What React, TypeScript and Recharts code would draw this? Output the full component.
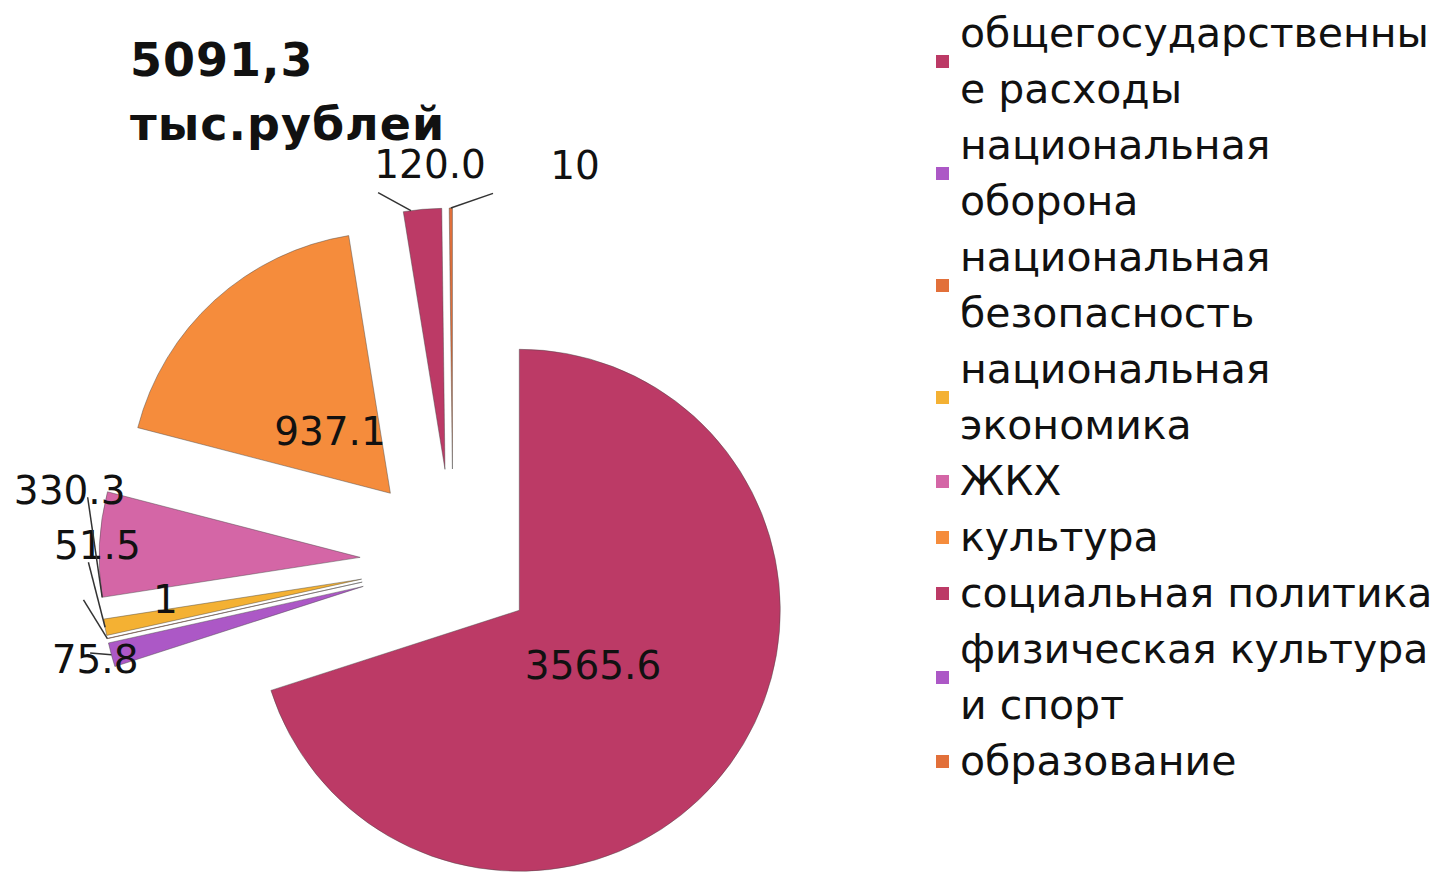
import React from "react";
import { PieChart, Pie, Cell, Sector } from "recharts";

const categories = [
  "общегосударственные расходы",
  "национальная оборона",
  "национальная безопасность",
  "национальная экономика",
  "ЖКХ",
  "культура",
  "социальная политика",
  "физическая культура и спорт",
  "образование",
];
const values = [3565.6, 75.8, 1, 51.5, 330.3, 937.1, 120.0, 0, 10];
const colors = ["#BC3A66", "#AC58C6", "#E2703A", "#F4B133", "#D466A6", "#F58C3C", "#BC3A66", "#AC58C6", "#E2703A"];
const totalText = "5091,3";
const unitText = "тыс.рублей";

// how far each slice is pulled out of the pie
const explode = [82, 93, 93, 93, 93, 93, 93, 93, 93];
// where the value labels sit: clockwise degrees from 12 o'clock, distance from pie centre
const labelAngle = [126.4, 254.7, 262.5, 272.7, 280.6, 316.6, 356.7, 0, 17.1];
const labelDist = [174, 371, 290, 356, 390, 179, 398, 0, 415];
// leader lines: start offset from label centre, end point along the slice arc (0..1)
const leaderFrom: ([number, number] | null)[] = [null, [-5, -7], [-82, 0], [-9, 17], [18, 7], null, [-52, 28], null, [-82, 28]];
const leaderArc = [0, 0.5, 0.5, 0.5, 0, 0, 0.2, 0, 0.5];

const RAD = Math.PI / 180;
const font = "'DejaVu Sans', sans-serif";

const pieData = categories.map((name, i) => ({ name, value: values[i] }));

const fmt = (v: number) => (v >= 100 ? v.toFixed(1) : String(v));

function ExplodedSector(props: any) {
  if (!props.value) return null;
  const i = categories.indexOf(props.name ?? props.payload?.name);
  const e = explode[i] ?? 0;
  const a = -props.midAngle * RAD;
  return <Sector {...props} cx={props.cx + e * Math.cos(a)} cy={props.cy + e * Math.sin(a)} />;
}

function renderLabel(props: any) {
  const { cx, cy, value, startAngle, endAngle, midAngle, outerRadius } = props;
  if (!value) return null;
  const i = categories.indexOf(props.name ?? props.payload?.name);
  const t = labelAngle[i] * RAD;
  const x = cx + labelDist[i] * Math.sin(t);
  const y = cy - labelDist[i] * Math.cos(t);
  const from = leaderFrom[i];
  let line = null;
  if (from) {
    const m = -midAngle * RAD;
    const vx = cx + explode[i] * Math.cos(m);
    const vy = cy + explode[i] * Math.sin(m);
    const ang = -(startAngle + leaderArc[i] * (endAngle - startAngle)) * RAD;
    const ex = vx + outerRadius * Math.cos(ang);
    const ey = vy + outerRadius * Math.sin(ang);
    line = <line x1={x + from[0]} y1={y + from[1]} x2={ex} y2={ey} stroke="#333" strokeWidth={1.5} />;
  }
  return (
    <g key={`lbl-${i}`}>
      {line}
      <text x={x} y={y} textAnchor="middle" dominantBaseline="central" fontFamily={font} fontSize={39} fill="#111">
        {fmt(value)}
      </text>
    </g>
  );
}

export default function App() {
  return (
    <div style={{ position: "absolute", left: 0, top: 0, width: 1438, height: 877, background: "#fff", overflow: "hidden" }}>
      <PieChart width={1438} height={877} margin={{ top: 0, right: 0, bottom: 0, left: 0 }}>
        <Pie
          data={pieData}
          dataKey="value"
          nameKey="name"
          cx={453}
          cy={562}
          outerRadius={261}
          startAngle={90}
          endAngle={-270}
          stroke="rgba(70,70,70,0.45)"
          strokeWidth={1}
          shape={ExplodedSector}
          activeShape={ExplodedSector}
          inactiveShape={ExplodedSector}
          label={renderLabel}
          labelLine={false}
          isAnimationActive={false}
        >
          {pieData.map((_, i) => (
            <Cell key={i} fill={colors[i]} />
          ))}
        </Pie>
      </PieChart>

      <div
        style={{
          position: "absolute",
          left: 130,
          top: 28,
          fontFamily: font,
          fontWeight: "bold",
          fontSize: 46,
          lineHeight: "64px",
          letterSpacing: 1,
          color: "#111",
        }}
      >
        <div>{totalText}</div>
        <div>{unitText}</div>
      </div>

      <div style={{ position: "absolute", left: 936, top: 5, fontFamily: font, fontSize: 41, lineHeight: "56px", color: "#111" }}>
        {categories.map((name, i) => (
          <div key={name} style={{ display: "flex", alignItems: "center" }}>
            <div style={{ width: 13, height: 13, background: colors[i], marginRight: 11, flex: "none" }} />
            <div style={{ width: 478, overflowWrap: "anywhere" }}>{name}</div>
          </div>
        ))}
      </div>
    </div>
  );
}
